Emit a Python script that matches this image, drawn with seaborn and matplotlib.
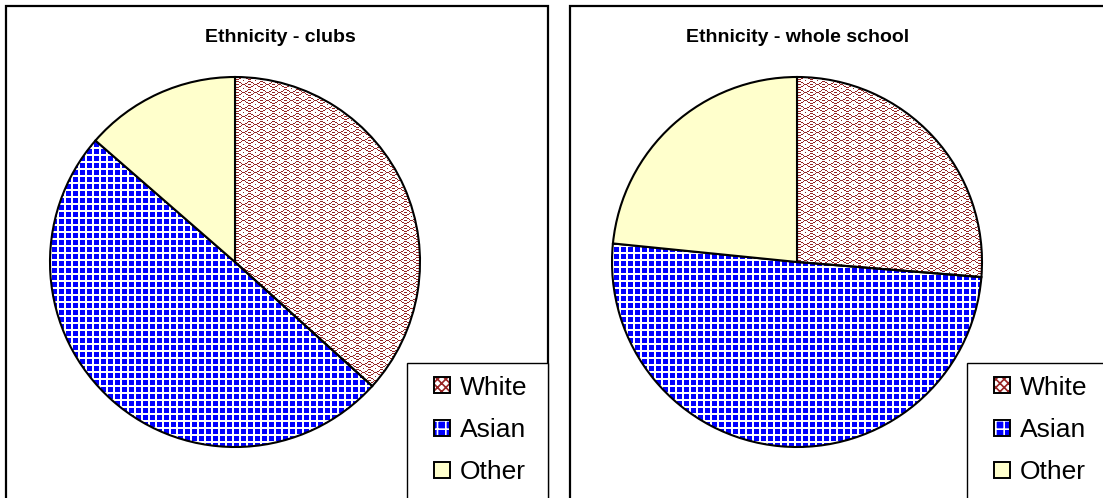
import numpy as np
import matplotlib
matplotlib.use("Agg")
import matplotlib.pyplot as plt
import seaborn as sns
from matplotlib.patches import Rectangle, Patch
from matplotlib.legend_handler import HandlerBase

sns.set_theme(style="white")
plt.rcParams['font.family'] = ['Liberation Sans', 'DejaVu Sans']
plt.rcParams['text.color'] = 'black'

# ---------------- data ----------------
categories = ["White", "Asian", "Other"]
clubs_values = [36.7, 49.7, 13.6]
school_values = [26.3, 50.3, 23.4]
titles = ["Ethnicity - clubs", "Ethnicity - whole school"]

# ---------------- styles ----------------
RED = np.array([150, 35, 35]) / 255.0
BLUE = np.array([0, 0, 255]) / 255.0
YELLOW = "#ffffcc"
W, H = 1103, 498
DPI = 100

fig = plt.figure(figsize=(W / DPI, H / DPI), dpi=DPI)
fig.patch.set_facecolor("white")


def fx(px):
    return px / W


def fy(py):
    return 1 - py / H


def wave_texture(n):
    img = np.ones((n, n, 3))
    tile = np.zeros((8, 12), bool)
    for x in range(12):
        c = np.cos(2 * np.pi * x / 12)
        ya = int(round(1 + 1.5 * (1 - c)))
        yb = int(round(7 - 1.5 * (1 - c)))
        tile[ya % 8, x] = True
        tile[yb % 8, x] = True
    tile[4, 0] = True
    tile[4, 1] = True
    tile[4, 11] = True
    tile[0, 6] = True
    mask = np.tile(tile, (n // 8 + 1, n // 12 + 1))[:n, :n]
    img[mask] = RED
    return img


def checker_texture(n):
    img = np.ones((n, n, 3))
    yy, xx = np.mgrid[0:n, 0:n]
    mask = ((xx % 7) < 5) & ((yy % 7) < 5)
    img[mask] = BLUE
    return img


class SwatchHandler(HandlerBase):
    def create_artists(self, legend, orig_handle, xdescent, ydescent,
                       width, height, fontsize, trans):
        s = min(width, height)
        x0 = -xdescent
        y0 = -ydescent + (height - s) / 2
        r1 = Rectangle((x0, y0), s, s, facecolor=orig_handle.get_facecolor(),
                       edgecolor=orig_handle.get_edgecolor(),
                       hatch=orig_handle.get_hatch(), lw=0, transform=trans)
        r2 = Rectangle((x0, y0), s, s, fill=False, edgecolor="black",
                       lw=1.4, transform=trans)
        return [r1, r2]


plt.rcParams['hatch.linewidth'] = 1.2

panels = [
    dict(box=(6, 548), center=(235, 262), title_x=280, legbox=(407, 548), legx=434),
    dict(box=(570, 1120), center=(797, 262), title_x=798, legbox=(967, 1120), legx=994),
]
R = 185
S = 380
L = S / 2 / R

for p, vals, title in zip(panels, [clubs_values, school_values], titles):
    # panel border
    x0, x1 = p["box"]
    fig.patches.append(Rectangle((fx(x0), fy(520)), fx(x1) - fx(x0), fy(6) - fy(520),
                                 transform=fig.transFigure, fill=False,
                                 edgecolor="black", lw=1.6))
    fig.text(fx(p["title_x"]), fy(37), title, ha="center", va="center",
             fontsize=14, fontweight="bold", color="black")

    cx, cy = p["center"]
    ax = fig.add_axes([fx(cx - S / 2), fy(cy + S / 2), S / W, S / H])
    ax.set_axis_off()
    wedges, _ = ax.pie(vals, colors=["white", "white", YELLOW], startangle=90,
                       counterclock=False, radius=1,
                       wedgeprops=dict(edgecolor="black", linewidth=1.5))
    textures = [wave_texture(S), checker_texture(S), None]
    for w, tex in zip(wedges, textures):
        w.set_zorder(3)
        w.set_clip_on(False)
        if tex is not None:
            w.set_facecolor("none")
            im = ax.imshow(tex, extent=(-L, L, -L, L), interpolation="nearest",
                           zorder=2)
            im.set_clip_path(w)
    ax.set_xlim(-L, L)
    ax.set_ylim(-L, L)
    ax.set_aspect("equal")

    # legend box
    lx0, lx1 = p["legbox"]
    fig.patches.append(Rectangle((fx(lx0), fy(520)), fx(lx1) - fx(lx0), fy(363) - fy(520),
                                 transform=fig.transFigure, facecolor="white",
                                 edgecolor="black", lw=1.0, zorder=5))
    handles = [
        Patch(facecolor="white", edgecolor=RED, hatch="xxxx", label=categories[0]),
        Patch(facecolor="blue", edgecolor="white", hatch="++", label=categories[1]),
        Patch(facecolor=YELLOW, edgecolor=YELLOW, hatch="", label=categories[2]),
    ]
    leg = fig.legend(handles=handles, labels=categories, loc="center left",
                     bbox_to_anchor=(fx(p["legx"]), fy(430)), frameon=False,
                     fontsize=19, labelspacing=0.7, handlelength=0.6,
                     handleheight=0.6, handletextpad=0.38, borderpad=0,
                     borderaxespad=0,
                     handler_map={Patch: SwatchHandler()})
    for t in leg.get_texts():
        t.set_color("black")
    leg.set_zorder(6)

fig.savefig("out.png", dpi=DPI, facecolor="white")
